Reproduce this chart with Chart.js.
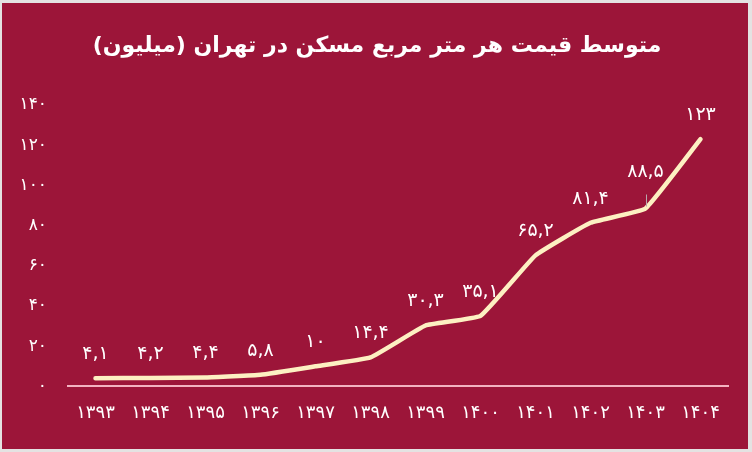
<!DOCTYPE html>
<html>
<head>
<meta charset="utf-8">
<script src="https://cdn.jsdelivr.net/npm/chart.js@4/dist/chart.umd.min.js"></script>
<style>
  html, body { margin: 0; padding: 0; background: #e4e2e2; }
  #wrap { width: 752px; height: 452px; position: relative; }
  canvas { display: block; }
</style>
</head>
<body>
<div id="wrap"><canvas id="chart" width="752" height="452"></canvas></div>
<script>
// years (Solar Hijri) and average price per m2 in Tehran, million toman
const years = [1393, 1394, 1395, 1396, 1397, 1398, 1399, 1400, 1401, 1402, 1403, 1404];
const prices = [4.1, 4.2, 4.4, 5.8, 10, 14.4, 30.3, 35.1, 65.2, 81.4, 88.5, 123];
const yTicks = [0, 20, 40, 60, 80, 100, 120, 140];

const titleText = 'متوسط قیمت هر متر مربع مسکن در تهران (میلیون)';
const bgColor = '#9c1539';
const lineColor = '#fdf0c2';
const font = '"DejaVu Sans", sans-serif';

function faDigits(v) {
    return String(v).replace('.', ',').replace(/[0-9]/g, d => '۰۱۲۳۴۵۶۷۸۹'[d]);
}

// frame + crimson background + title
const background = {
    id: 'background',
    beforeDraw(chart) {
        const ctx = chart.ctx;
        ctx.save();
        ctx.fillStyle = '#e4e2e2';
        ctx.fillRect(0, 0, chart.width, chart.height);
        ctx.fillStyle = bgColor;
        ctx.fillRect(2, 3, chart.width - 6, chart.height - 6);
        ctx.fillStyle = '#ffffff';
        ctx.font = 'bold 22px ' + font;
        ctx.textAlign = 'center';
        ctx.textBaseline = 'middle';
        ctx.fillText(titleText, 377, 46);
        ctx.restore();
    }
};

// value labels above each point
const valueLabels = {
    id: 'valueLabels',
    afterDatasetsDraw(chart) {
        const ctx = chart.ctx;
        const meta = chart.getDatasetMeta(0);
        ctx.save();
        ctx.font = '19px ' + font;
        ctx.fillStyle = '#ffffff';
        ctx.textAlign = 'center';
        ctx.textBaseline = 'middle';
        meta.data.forEach((pt, i) => {
            let off = 24;
            if (i === 10) {
                off = 36;
                ctx.strokeStyle = '#b8a8ac';
                ctx.lineWidth = 1;
                ctx.beginPath();
                ctx.moveTo(pt.x + 1, pt.y - 14);
                ctx.lineTo(pt.x + 1, pt.y - 2);
                ctx.stroke();
            }
            ctx.fillText(faDigits(prices[i]), pt.x, pt.y - off);
        });
        ctx.restore();
    }
};

new Chart(document.getElementById('chart'), {
    type: 'line',
    data: {
        labels: years.map(faDigits),
        datasets: [{
            data: prices,
            borderColor: lineColor,
            borderWidth: 4.5,
            pointRadius: 0,
            tension: 0.1,
            borderCapStyle: 'round',
            borderJoinStyle: 'round',
            fill: false
        }]
    },
    options: {
        responsive: false,
        animation: false,
        layout: { padding: { left: 0, right: 24, top: 105, bottom: 12 } },
        plugins: {
            legend: { display: false },
            tooltip: { enabled: false },
            title: { display: false }
        },
        scales: {
            x: {
                offset: true,
                grid: { display: false, drawTicks: false },
                border: { display: true, color: '#f3b3c1', width: 2 },
                ticks: {
                    color: '#ffffff',
                    font: { family: font, size: 18 },
                    padding: 16,
                    maxRotation: 0,
                    autoSkip: false
                }
            },
            y: {
                min: 0,
                max: 140,
                afterBuildTicks(axis) { axis.ticks = yTicks.map(v => ({ value: v })); },
                afterFit(axis) { axis.width = 68; },
                grid: { display: false, drawTicks: false },
                border: { display: false },
                ticks: {
                    color: '#ffffff',
                    font: { family: font, size: 17 },
                    padding: 21,
                    callback: v => faDigits(v)
                }
            }
        }
    },
    plugins: [background, valueLabels]
});
</script>
</body>
</html>
